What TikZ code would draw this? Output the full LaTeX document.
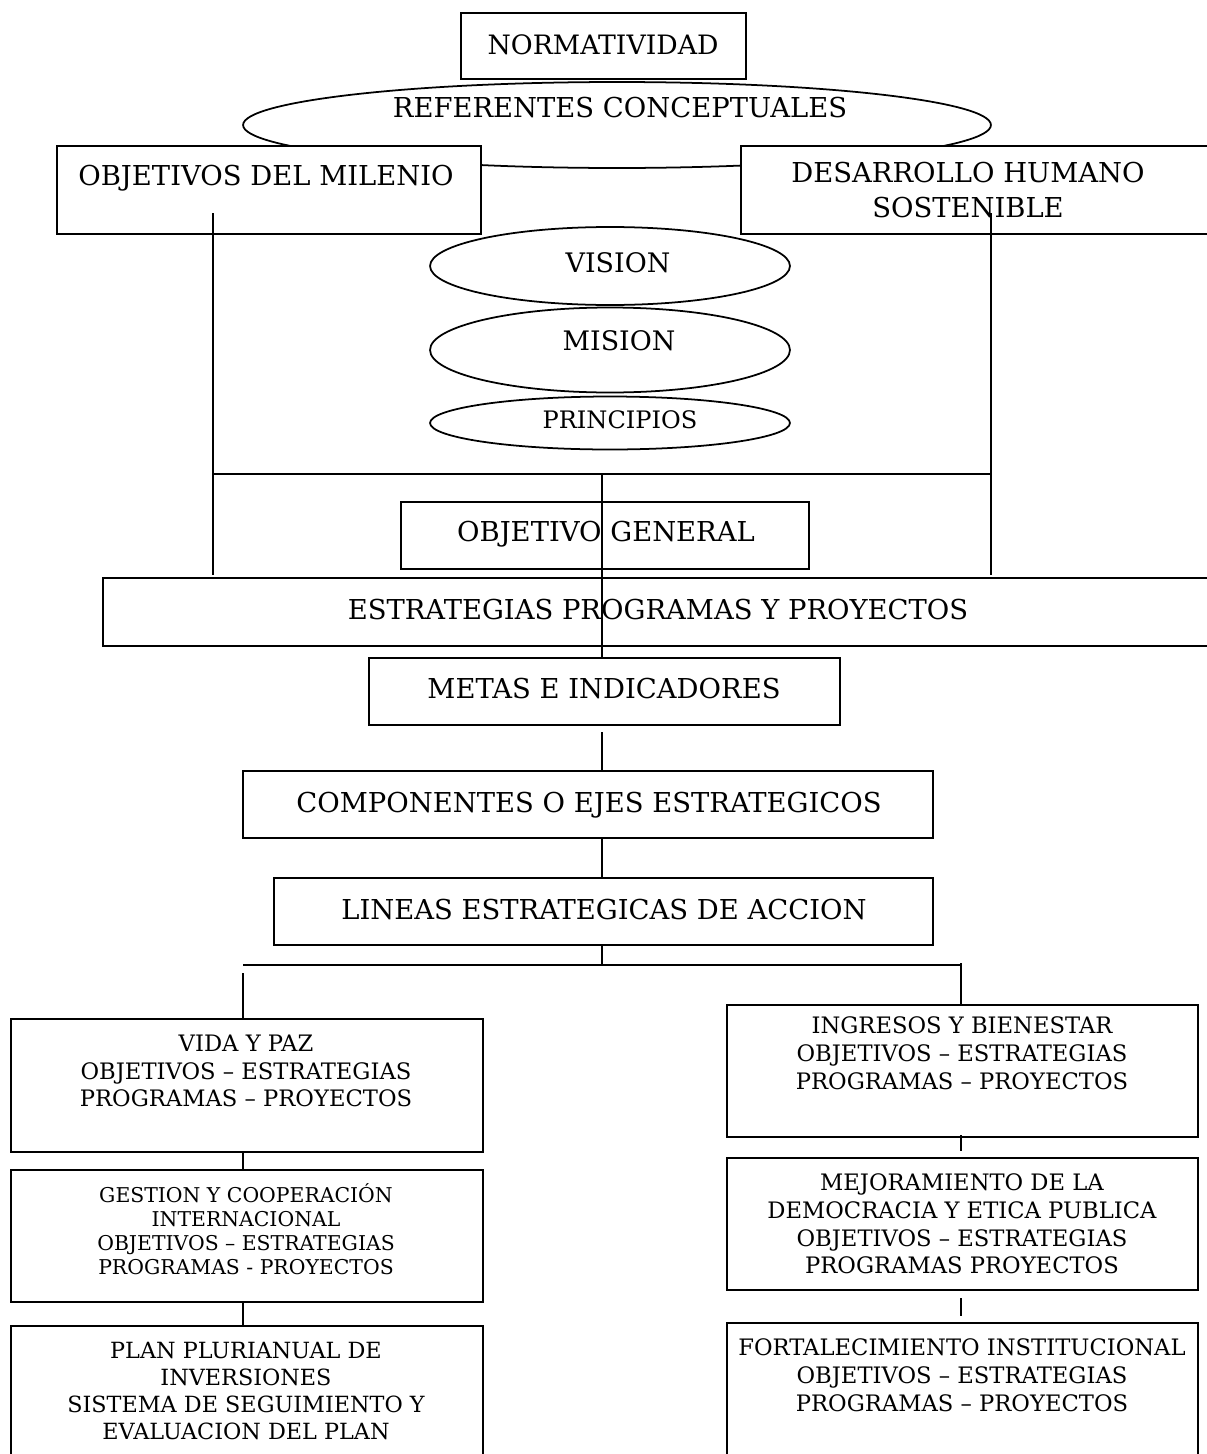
\documentclass[tikz,border=0pt]{standalone}
\usepackage{fontspec}
\setmainfont{DejaVu Serif}
\usetikzlibrary{shapes.geometric}

\tikzset{
  caja/.style={draw, line width=1.5pt, fill=white, inner sep=0pt},
  ovalo/.style={draw, ellipse, line width=1pt, fill=white, inner sep=0pt},
  titulo/.style={font=\fontsize{15.6}{20}\selectfont, align=center, inner sep=0pt, text height=11.4pt, text depth=0pt},
  bloque/.style={font=\fontsize{12.9}{15.8}\selectfont, align=center, inner sep=0pt},
  conector/.style={line width=0.6pt}
}

\begin{document}
\begin{tikzpicture}[x=0.02cm, y=-0.02cm]
\useasboundingbox (0,0) rectangle (1207,1454);

% referentes
\node[ovalo, minimum width=14.96cm, minimum height=1.72cm] (refer) at (617,125) {};
\node[titulo] (trefer) at (620,107) {REFERENTES CONCEPTUALES};
\node[caja, minimum width=5.70cm, minimum height=1.32cm] (norma) at (603.5,46) {};
\node[titulo, font=\fontsize{15.2}{20}\selectfont] (tnorma) at (603,44) {NORMATIVIDAD};
\node[caja, minimum width=8.48cm, minimum height=1.76cm] (milenio) at (269,190) {};
\node[titulo] (tmilenio) at (266,175) {OBJETIVOS DEL MILENIO};
\node[caja, minimum width=9.56cm, minimum height=1.76cm] (humano) at (980,190) {};
\node[titulo, text height=, text depth=] (thumano) at (968,190) {DESARROLLO HUMANO\\SOSTENIBLE};

% vision, mision y principios
\node[ovalo, minimum width=7.2cm, minimum height=1.56cm] (vision) at (610,266) {};
\node[titulo, font=\fontsize{15.3}{20}\selectfont] (tvision) at (618,262) {VISION};
\node[ovalo, minimum width=7.2cm, minimum height=1.70cm] (mision) at (610,350) {};
\node[titulo, font=\fontsize{15.3}{20}\selectfont] (tmision) at (619,340) {MISION};
\node[ovalo, minimum width=7.2cm, minimum height=1.06cm] (princ) at (610,423) {};
\node[titulo, font=\fontsize{13.7}{18}\selectfont, text height=10pt] (tprinc) at (620,420) {PRINCIPIOS};

% cadena central
\node[caja, minimum width=8.16cm, minimum height=1.34cm] (general) at (605,535.5) {};
\node[titulo] (tgeneral) at (606,531) {OBJETIVO GENERAL};
\node[caja, minimum width=22.34cm, minimum height=1.36cm] (estrat) at (661.5,612) {};
\node[titulo] (testrat) at (658,609) {ESTRATEGIAS PROGRAMAS Y PROYECTOS};
\node[caja, minimum width=9.42cm, minimum height=1.34cm] (metas) at (604.5,691.5) {};
\node[titulo] (tmetas) at (604,688) {METAS E INDICADORES};
\node[caja, minimum width=13.8cm, minimum height=1.34cm] (ejes) at (588,804.5) {};
\node[titulo] (tejes) at (589,802) {COMPONENTES O EJES ESTRATEGICOS};
\node[caja, minimum width=13.18cm, minimum height=1.34cm] (lineas) at (603.5,911.5) {};
\node[titulo] (tlineas) at (604,909) {LINEAS ESTRATEGICAS DE ACCION};

% columna izquierda
\node[caja, minimum width=9.44cm, minimum height=2.66cm] (vida) at (247,1085.5) {};
\node[bloque] (tvida) at (246,1071) {VIDA Y PAZ\\OBJETIVOS – ESTRATEGIAS\\PROGRAMAS – PROYECTOS};
\node[caja, minimum width=9.44cm, minimum height=2.64cm] (gestion) at (247,1236) {};
\node[bloque, font=\fontsize{11.6}{13.7}\selectfont] (tgestion) at (246,1229) {GESTION Y COOPERACIÓN\\INTERNACIONAL\\OBJETIVOS – ESTRATEGIAS\\PROGRAMAS - PROYECTOS};
\node[caja, minimum width=9.44cm, minimum height=2.88cm] (plan) at (247,1398) {};
\node[bloque, font=\fontsize{12.7}{15.5}\selectfont] (tplan) at (246,1391) {PLAN PLURIANUAL DE\\INVERSIONES\\SISTEMA DE SEGUIMIENTO Y\\EVALUACION DEL PLAN};

% columna derecha
\node[caja, minimum width=9.42cm, minimum height=2.64cm] (ingresos) at (962.5,1071) {};
\node[bloque] (tingresos) at (962,1053) {INGRESOS Y BIENESTAR\\OBJETIVOS – ESTRATEGIAS\\PROGRAMAS – PROYECTOS};
\node[caja, minimum width=9.42cm, minimum height=2.64cm] (mejora) at (962.5,1224) {};
\node[bloque] (tmejora) at (962,1224) {MEJORAMIENTO DE LA\\DEMOCRACIA Y ETICA PUBLICA\\OBJETIVOS – ESTRATEGIAS\\PROGRAMAS PROYECTOS};
\node[caja, minimum width=9.42cm, minimum height=2.94cm] (fortal) at (962.5,1396.5) {};
\node[bloque] (tfortal) at (962,1375) {FORTALECIMIENTO INSTITUCIONAL\\OBJETIVOS – ESTRATEGIAS\\PROGRAMAS – PROYECTOS};

% puntos de las lineas
\coordinate (mi1) at (213,213);
\coordinate (mi2) at (213,575);
\coordinate (hu1) at (991,213);
\coordinate (hu2) at (991,575);
\coordinate (eje) at (602,474);
\coordinate (ri) at (243,965);
\coordinate (rd) at (961,965);
\coordinate (rama) at (602,965);

\draw[conector] (mi1) -- (mi2);
\draw[conector] (hu1) -- (hu2);
\draw[conector] (mi1 |- eje) -- (hu1 |- eje);
\draw[conector] (eje) -- (metas.north -| eje);
\draw[conector] ([yshift=-0.12cm]metas.south -| eje) -- (ejes.north -| eje);
\draw[conector] (ejes.south -| eje) -- (lineas.north -| eje);
\draw[conector] (lineas.south -| eje) -- (rama);
\draw[conector] (ri) -- (rd);
\draw[conector] ([yshift=-0.16cm]ri) -- (vida.north -| ri);
\draw[conector] ([yshift=0.04cm]rd) -- (ingresos.north -| rd);
\draw[conector] (vida.south -| ri) -- (gestion.north -| ri);
\draw[conector] (gestion.south -| ri) -- (plan.north -| ri);
\draw[conector] ([yshift=0.06cm]ingresos.south -| rd) -- ([yshift=0.12cm]mejora.north -| rd);
\draw[conector] ([yshift=-0.14cm]mejora.south -| rd) -- ([yshift=0.12cm]fortal.north -| rd);
\end{tikzpicture}
\end{document}
